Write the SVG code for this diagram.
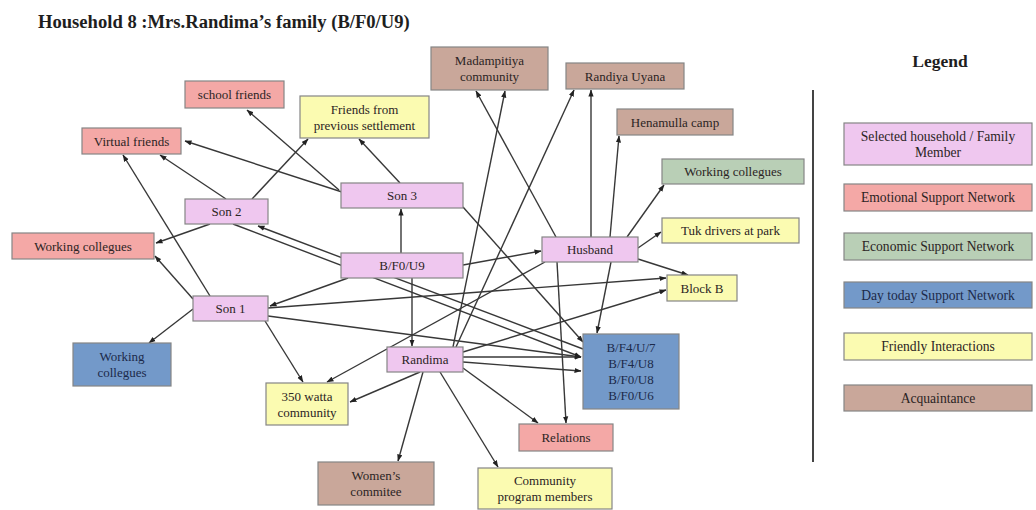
<svg xmlns="http://www.w3.org/2000/svg" width="1036" height="510" viewBox="0 0 1036 510">
<style>
.t{font-family:"Liberation Serif","Times New Roman",serif;font-size:13px;fill:#2b2424;text-anchor:middle}
.lt{font-size:13.6px}
.b{stroke:#858585;stroke-width:1.2}
.pk{fill:#efc7ef}.rd{fill:#f4a8a6}.gr{fill:#b9cfb6}.bl{fill:#7399c9}.ye{fill:#fbfbb1}.br{fill:#c9a79a}
.dk{fill:#1c2a4a}
.e line{stroke:#383838;stroke-width:1.4;marker-end:url(#ah)}
</style>
<defs>
<marker id="ah" markerUnits="userSpaceOnUse" markerWidth="7" markerHeight="6" viewBox="0 0 7 6" refX="6.5" refY="3" orient="auto">
<path d="M0,0.4 L7,3 L0,5.6 z" fill="#222"/>
</marker>
</defs>
<rect width="1036" height="510" fill="#fff"/>
<text x="38" y="28" style="font-family:'Liberation Serif','Times New Roman',serif;font-size:18.6px;font-weight:bold;fill:#1e1e1e">Household 8 :Mrs.Randima’s family (B/F0/U9)</text>

<g id="connectors" class="e">
<line x1="342" y1="192" x2="185" y2="141"/>
<line x1="339" y1="190" x2="247" y2="110"/>
<line x1="400" y1="183" x2="359" y2="139"/>
<line x1="463" y1="207" x2="583" y2="342"/>
<line x1="226" y1="199" x2="160" y2="155"/>
<line x1="252" y1="199" x2="308" y2="139"/>
<line x1="210" y1="224" x2="156" y2="243"/>
<line x1="233" y1="224" x2="581" y2="357"/>
<line x1="583" y1="349" x2="258" y2="226"/>
<line x1="210" y1="296" x2="123" y2="155"/>
<line x1="193" y1="299" x2="155" y2="256"/>
<line x1="193" y1="309" x2="149" y2="343"/>
<line x1="268" y1="308" x2="666" y2="278"/>
<line x1="268" y1="316" x2="581" y2="357"/>
<line x1="265" y1="321" x2="303" y2="382"/>
<line x1="401" y1="253" x2="401" y2="209"/>
<line x1="412" y1="278" x2="412" y2="346"/>
<line x1="463" y1="265" x2="541" y2="251"/>
<line x1="348" y1="278" x2="270" y2="306"/>
<line x1="556" y1="237" x2="476" y2="91"/>
<line x1="591" y1="237" x2="591" y2="90"/>
<line x1="610" y1="237" x2="619" y2="136"/>
<line x1="627" y1="237" x2="664" y2="185"/>
<line x1="638" y1="248" x2="661" y2="232"/>
<line x1="638" y1="259" x2="688" y2="275"/>
<line x1="611" y1="262" x2="597" y2="333"/>
<line x1="557" y1="262" x2="566" y2="423"/>
<line x1="545" y1="262" x2="327" y2="382"/>
<line x1="453" y1="347" x2="505" y2="91"/>
<line x1="456" y1="347" x2="574" y2="90"/>
<line x1="463" y1="352" x2="666" y2="290"/>
<line x1="463" y1="357" x2="581" y2="357"/>
<line x1="463" y1="362" x2="581" y2="371"/>
<line x1="463" y1="368" x2="538" y2="423"/>
<line x1="420" y1="372" x2="350" y2="402"/>
<line x1="423" y1="372" x2="398" y2="461"/>
<line x1="440" y1="372" x2="498" y2="467"/>
</g>

<g id="school-friends"><rect class="rd b" x="185" y="81" width="99" height="27"/><text class="t" x="234.5" y="99">school friends</text></g>
<g id="friends-previous"><rect class="ye b" x="300" y="96" width="129" height="42"/><text class="t" x="364.5" y="114">Friends from</text><text class="t" x="364.5" y="130">previous settlement</text></g>
<g id="virtual-friends"><rect class="rd b" x="82" y="128" width="99" height="26"/><text class="t" x="131.5" y="145.5">Virtual friends</text></g>
<g id="madampitiya"><rect class="br b" x="431" y="47" width="117" height="43"/><text class="t" x="489.5" y="65">Madampitiya</text><text class="t" x="489.5" y="81">community</text></g>
<g id="randiya-uyana"><rect class="br b" x="566" y="63" width="118" height="26"/><text class="t" x="625" y="80.5">Randiya Uyana</text></g>
<g id="henamulla-camp"><rect class="br b" x="617" y="109" width="116" height="26"/><text class="t" x="675" y="126.5">Henamulla camp</text></g>
<g id="working-green"><rect class="gr b" x="662" y="159" width="142" height="25"/><text class="t" x="733" y="176">Working collegues</text></g>
<g id="tuk-drivers"><rect class="ye b" x="662" y="218" width="137" height="25"/><text class="t" x="730.5" y="235">Tuk drivers at park</text></g>
<g id="block-b"><rect class="ye b" x="667" y="275" width="70" height="26"/><text class="t" x="702" y="292.5">Block B</text></g>
<g id="son3"><rect class="pk b" x="341" y="183" width="122" height="25"/><text class="t" x="402" y="200">Son 3</text></g>
<g id="son2"><rect class="pk b" x="185" y="199" width="83" height="25"/><text class="t" x="226.5" y="216">Son 2</text></g>
<g id="working-red"><rect class="rd b" x="12" y="233" width="142" height="26"/><text class="t" x="83" y="250.5">Working collegues</text></g>
<g id="bf0u9"><rect class="pk b" x="341" y="253" width="122" height="25"/><text class="t" x="402" y="270">B/F0/U9</text></g>
<g id="husband"><rect class="pk b" x="542" y="237" width="96" height="25"/><text class="t" x="590" y="254">Husband</text></g>
<g id="son1"><rect class="pk b" x="193" y="296" width="75" height="25"/><text class="t" x="230.5" y="313">Son 1</text></g>
<g id="working-blue"><rect class="bl b" x="73" y="343" width="98" height="43"/><text class="t dk" x="122" y="361">Working</text><text class="t dk" x="122" y="377">collegues</text></g>
<g id="randima"><rect class="pk b" x="387" y="347" width="76" height="25"/><text class="t" x="425" y="364">Randima</text></g>
<g id="neighbours"><rect class="bl b" x="583" y="334" width="96" height="75"/><text class="t dk" x="631" y="352">B/F4/U/7</text><text class="t dk" x="631" y="368">B/F4/U8</text><text class="t dk" x="631" y="384">B/F0/U8</text><text class="t dk" x="631" y="400">B/F0/U6</text></g>
<g id="watta-350"><rect class="ye b" x="266" y="383" width="82" height="42"/><text class="t" x="307" y="401">350 watta</text><text class="t" x="307" y="417">community</text></g>
<g id="relations"><rect class="rd b" x="519" y="424" width="94" height="27"/><text class="t" x="566" y="442">Relations</text></g>
<g id="womens-committee"><rect class="br b" x="318" y="462" width="116" height="43"/><text class="t" x="376" y="480">Women’s</text><text class="t" x="376" y="496">commitee</text></g>
<g id="community-program"><rect class="ye b" x="478" y="468" width="134" height="41"/><text class="t" x="545" y="485">Community</text><text class="t" x="545" y="501">program members</text></g>

<g id="legend">
<text x="940" y="67" style="font-family:'Liberation Serif','Times New Roman',serif;font-size:17.5px;font-weight:bold;fill:#1e1e1e;text-anchor:middle">Legend</text>
<line x1="813" y1="90" x2="813" y2="462" stroke="#444" stroke-width="2"/>
<g id="legend-selected"><rect class="pk b" x="844" y="123" width="188" height="42"/><text class="t lt" x="938" y="141">Selected  household / Family</text><text class="t lt" x="938" y="157">Member</text></g>
<g id="legend-emotional"><rect class="rd b" x="844" y="184" width="188" height="27"/><text class="t lt" x="938" y="202">Emotional Support Network</text></g>
<g id="legend-economic"><rect class="gr b" x="844" y="233" width="188" height="27"/><text class="t lt" x="938" y="251">Economic Support Network</text></g>
<g id="legend-daytoday"><rect class="bl b" x="844" y="282" width="188" height="26"/><text class="t lt dk" x="938" y="299.5">Day today Support Network</text></g>
<g id="legend-friendly"><rect class="ye b" x="844" y="333" width="188" height="27"/><text class="t lt" x="938" y="351">Friendly Interactions</text></g>
<g id="legend-acquaintance"><rect class="br b" x="844" y="385" width="188" height="26"/><text class="t lt" x="938" y="402.5">Acquaintance</text></g>
</g>
</svg>
